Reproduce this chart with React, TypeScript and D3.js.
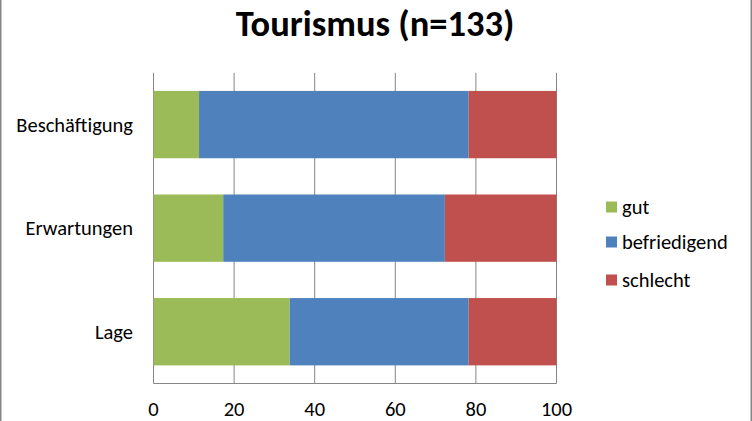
import React from "react";
import * as d3 from "d3";

const categories = ["Beschäftigung", "Erwartungen", "Lage"];
const seriesNames = ["gut", "befriedigend", "schlecht"];
const gut = [11.3, 17.3, 33.8];
const befriedigend = [66.9, 55.0, 44.4];
const schlecht = [21.8, 27.7, 21.8];
const xTicks = [0, 20, 40, 60, 80, 100];
const colors = ["#9BBB59", "#4F81BD", "#C0504D"];
const title = "Tourismus (n=133)";

const W = 752, H = 421;
const plot = { left: 153.5, right: 556.5, top: 72.8, bottom: 383.5 };
const font = "Carlito, 'Open Sans', 'Liberation Sans', sans-serif";

export default function App() {
  const x = d3.scaleLinear().domain([0, 100]).range([plot.left, plot.right]);
  const y = d3.scaleBand().domain(categories).range([plot.top, plot.bottom]).paddingInner(0.35).paddingOuter(0.175);
  const rows = categories.map((c, i) => ({ cat: c, gut: gut[i], befriedigend: befriedigend[i], schlecht: schlecht[i] }));
  const stacked = d3.stack<any>().keys(seriesNames)(rows);

  return (
    <svg width={W} height={H} style={{ position: "absolute", left: 0, top: 0, background: "#fff" }}>
      <rect x={0.75} y={-2} width={W - 1.5} height={H + 4} fill="#fff" stroke="#868686" strokeWidth={1.5} />
      <text x={375} y={36} textAnchor="middle" fontFamily={font} fontWeight="bold" fontSize={36.5}>{title}</text>
      {xTicks.map(t => (
        <line key={t} x1={x(t)} x2={x(t)} y1={plot.top} y2={plot.bottom} stroke="#868686" strokeWidth={1} />
      ))}
      <line x1={plot.left} x2={plot.right} y1={plot.bottom} y2={plot.bottom} stroke="#868686" strokeWidth={1} />
      {stacked.map((s, si) => (
        <g key={s.key} fill={colors[si]}>
          {s.map((d: any, i: number) => (
            <rect key={i} x={x(d[0])} width={x(d[1]) - x(d[0])} y={y(categories[i])!} height={y.bandwidth()} />
          ))}
        </g>
      ))}
      {xTicks.map(t => (
        <text key={t} x={x(t)} y={416} textAnchor="middle" fontFamily={font} fontSize={20.5}>{t}</text>
      ))}
      {categories.map(c => (
        <text key={c} x={133} y={y(c)! + y.bandwidth() / 2 + 7} textAnchor="end" fontFamily={font} fontSize={20.5}>{c}</text>
      ))}
      {seriesNames.map((n, i) => {
        const ly = [207, 242, 280][i];
        return (
          <g key={n}>
            <rect x={606} y={ly - 5.5} width={11} height={11} fill={colors[i]} />
            <text x={622} y={ly + 7} fontFamily={font} fontSize={20.5}>{n}</text>
          </g>
        );
      })}
    </svg>
  );
}
